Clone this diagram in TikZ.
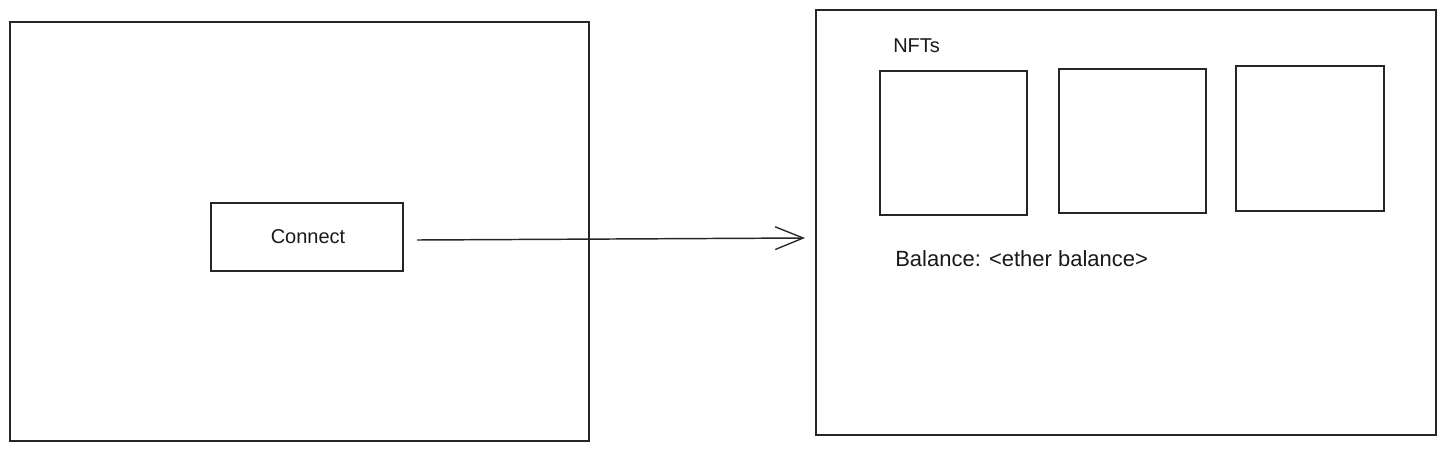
\documentclass[tikz,border=0pt]{standalone}
\usepackage{fontspec}
\setmainfont{Liberation Sans}
\usetikzlibrary{arrows.meta}
\begin{document}
\begin{tikzpicture}[x=0.75pt,y=-0.75pt,
  frame/.style={draw=black!85,line width=1pt,rectangle,inner sep=0pt},
  label/.style={font=\fontsize{15}{18}\selectfont,text=black!90,inner sep=0pt},
  conn/.style={draw=black!85,line width=1.1pt,-{Straight Barb[length=21pt,width=17pt,line width=1pt]}}]
\useasboundingbox (0,0) rectangle (1445,451);
% left frame
\node[frame,minimum width=579*0.75pt,minimum height=419*0.75pt] (left) at (299.5,231.5) {};
% connect button
\node[frame,minimum width=192*0.75pt,minimum height=68*0.75pt] (btn) at (307,237) {};
\node[label] (btntxt) at (308,237) {Connect};
% right frame
\node[frame,minimum width=620*0.75pt,minimum height=425*0.75pt] (right) at (1126,222.5) {};
% NFT label
\node[label,anchor=west] (nfts) at (893,46) {NFTs};
% NFT boxes
\node[frame,minimum width=147*0.75pt,minimum height=144*0.75pt] (n1) at (953.5,143) {};
\node[frame,minimum width=147*0.75pt,minimum height=144*0.75pt] (n2) at (1132.5,141) {};
\node[frame,minimum width=148*0.75pt,minimum height=145*0.75pt] (n3) at (1310,138.5) {};
% balance
\node[label,anchor=west,font=\fontsize{16.5}{19}\selectfont] (bal) at (895,259) {Balance: <ether balance>};
% arrow
\coordinate (a0) at (417,240);
\coordinate (a1) at (805,238);
\draw[conn] (a0) -- (a1);
\end{tikzpicture}
\end{document}
